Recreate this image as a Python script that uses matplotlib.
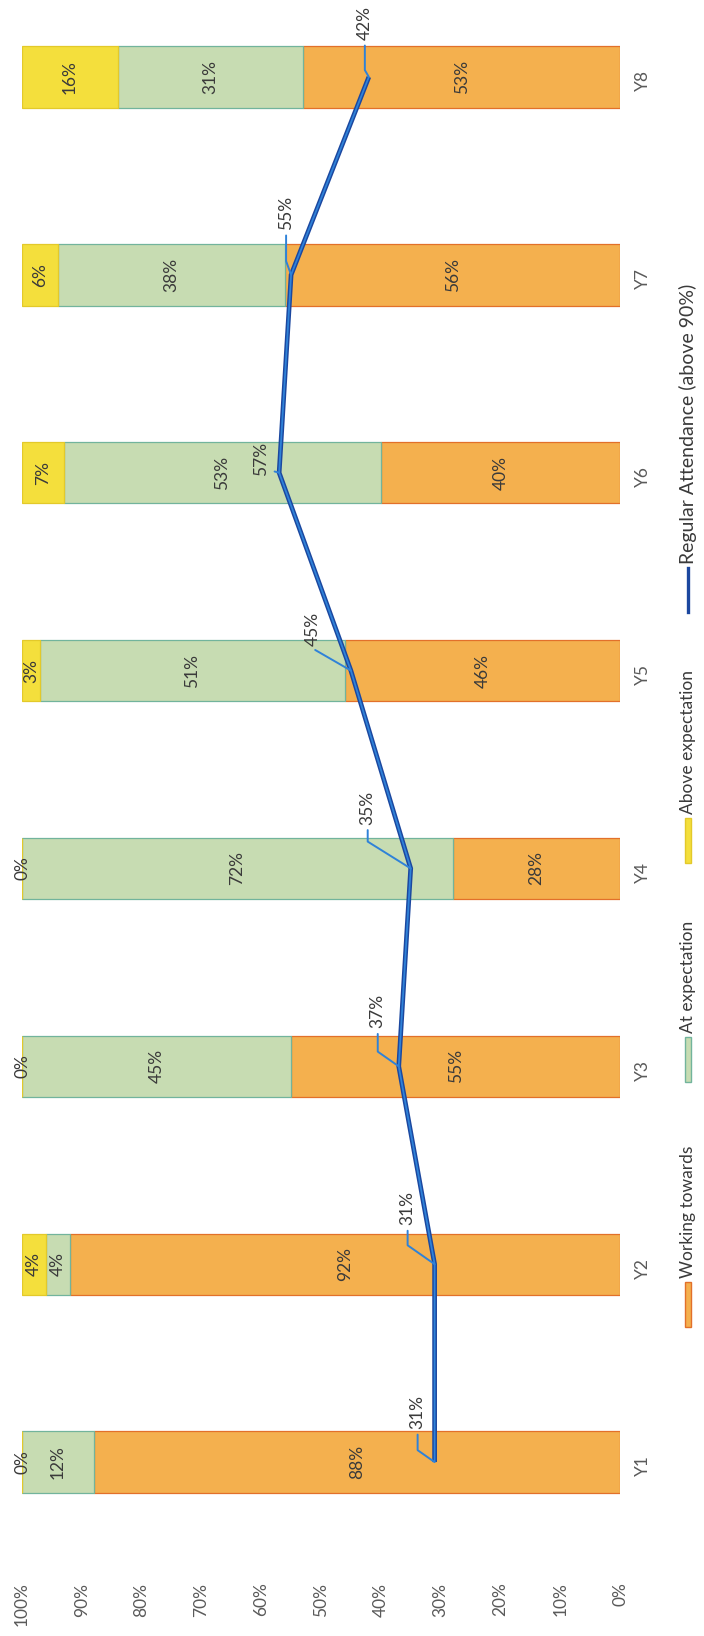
import matplotlib
matplotlib.use("Agg")
import matplotlib.pyplot as plt
import numpy as np
from matplotlib.patches import Rectangle
from matplotlib.lines import Line2D

# ---- data -------------------------------------------------------------
years = ["Y1", "Y2", "Y3", "Y4", "Y5", "Y6", "Y7", "Y8"]
working_towards = [88, 92, 55, 28, 46, 40, 56, 53]
at_expectation = [12, 4, 45, 72, 51, 53, 38, 31]
above_expectation = [0, 4, 0, 0, 3, 7, 6, 16]
regular_attendance = [31, 31, 37, 35, 45, 57, 55, 42]
value_ticks = [0, 10, 20, 30, 40, 50, 60, 70, 80, 90, 100]
legend_labels = ["Working towards", "At expectation", "Above expectation",
                 "Regular Attendance (above 90%)"]

# ---- style ------------------------------------------------------------
plt.rcParams["font.family"] = ["Lato", "DejaVu Sans"]
FS = 12.5
TXT = "#3a3a3a"
TICK = "#5a5a5a"
C_WT, E_WT = "#F4B04E", "#E2702A"
C_AT, E_AT = "#C7DCB2", "#72B49C"
C_AB, E_AB = "#F4DF3C", "#E3C92A"
C_LINE_D, C_LINE_L = "#1b479f", "#2f82d8"

W, H = 704, 1636
fig = plt.figure(figsize=(W / 100, H / 100), dpi=100)
fig.patch.set_facecolor("white")


def fx(px):
    return px / W


def fy(py):
    return 1 - py / H


# plot area: value axis runs right (0%) to left (100%), years run upward
ax = fig.add_axes([fx(22), fy(1561), 598 / W, 1561 / H])
ax.set_xlim(100, 0)
ax.set_ylim(-0.5, 7.389)
pos = np.arange(len(years))

series = [
    (working_towards, C_WT, E_WT),
    (at_expectation, C_AT, E_AT),
    (above_expectation, C_AB, E_AB),
]
left = np.zeros(len(years))
for vals, fc, ec in series:
    vals = np.asarray(vals, dtype=float)
    ax.barh(pos, vals, left=left, height=0.31, color=fc, edgecolor=ec,
            linewidth=0.9, zorder=2)
    for i, (l, v) in enumerate(zip(left, vals)):
        ax.text(l + v / 2, pos[i], f"{int(v)}%", rotation=90, ha="center",
                va="center", fontsize=FS, color=TXT, zorder=3)
    left += vals

# attendance line (two-tone stroke)
ax.plot(regular_attendance, pos, color=C_LINE_D, lw=3.4, zorder=4,
        solid_capstyle="butt", solid_joinstyle="miter")
ax.plot(regular_attendance, pos, color=C_LINE_L, lw=1.3, zorder=5,
        solid_capstyle="butt", solid_joinstyle="miter")

# attendance value labels with leader lines (offsets in pixels)
label_offsets = [(-17, 50), (-27, 56), (-21, 55), (-43, 61),
                 (-38, 42), (-18, 14), (-5, 62), (-4, 54)]
leader_angles = [145, 145, 145, 148, 150, 165, 110, 120]
for i, v in enumerate(regular_attendance):
    dx, dy = label_offsets[i]
    ax.annotate(f"{v}%", xy=(v, pos[i]), xytext=(dx, dy),
                textcoords="offset pixels", rotation=90, ha="center",
                va="center", fontsize=FS, color=TXT, zorder=6,
                arrowprops=dict(arrowstyle="-", color=C_LINE_L, lw=1.4,
                                shrinkA=2, shrinkB=0,
                                connectionstyle=f"angle,angleA=90,angleB={leader_angles[i]},rad=0"))

ax.set_xticks(value_ticks)
ax.set_xticklabels([f"{t}%" for t in value_ticks], rotation=90)
ax.tick_params(axis="x", length=0, pad=15.5, labelsize=FS, labelcolor=TICK)
ax.set_yticks(pos)
ax.set_yticklabels(years, rotation=90)
ax.yaxis.tick_right()
ax.tick_params(axis="y", length=0, pad=11, labelsize=FS, labelcolor=TICK)
for s in ax.spines.values():
    s.set_visible(False)

# legend, drawn along the right edge and read bottom to top
LX = 688
legend_items = [
    ("bar", C_WT, E_WT, 1327, 1282, 12.5),
    ("bar", C_AT, E_AT, 1082, 1037, 12.5),
    ("bar", C_AB, E_AB, 863, 818, 12.5),
    ("line", C_LINE_D, C_LINE_D, 612, 568, 14.0),
]
for (kind, fc, ec, y0, y1, fs), lab in zip(legend_items, legend_labels):
    if kind == "bar":
        fig.add_artist(Rectangle((fx(LX - 3), fy(y0)), 6 / W, (y0 - y1) / H,
                                 transform=fig.transFigure, facecolor=fc,
                                 edgecolor=ec, linewidth=1.0))
    else:
        fig.add_artist(Line2D([fx(LX), fx(LX)], [fy(y0), fy(y1)],
                              transform=fig.transFigure, color=fc, lw=2.4))
    fig.text(fx(LX), fy(y1 - 4), lab, rotation=90, rotation_mode="anchor",
             ha="left", va="center", fontsize=fs, color=TXT)

fig.savefig("out.png", dpi=100, facecolor="white")
